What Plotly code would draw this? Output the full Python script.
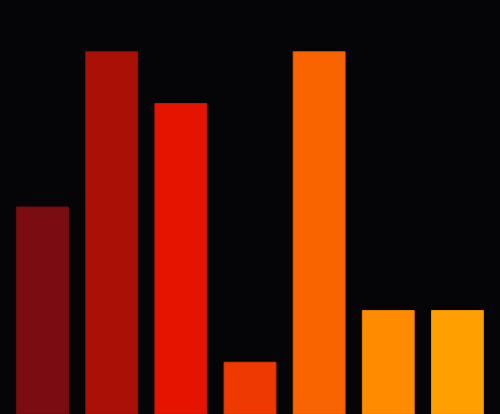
import plotly.graph_objects as go

categories = ["A", "B", "C", "D", "E", "F", "G"]
values = [4, 7, 6, 1, 7, 2, 2]
colors = ["#7b0d12", "#ab1007", "#e51400", "#ee3a00", "#fa6400", "#ff8c00", "#ffa000"]
outline = ["#6e0b10", "#9c0e06", "#d21200", "#d83400", "#e45a00", "#e87f00", "#e89200"]

fig = go.Figure(go.Bar(
    x=categories, y=values,
    marker=dict(color=colors, line=dict(color=outline, width=1)),
    hoverinfo="skip",
))
fig.update_layout(
    width=500, height=414,
    margin=dict(l=8, r=8, t=0, b=0),
    paper_bgcolor="#050507", plot_bgcolor="#050507",
    bargap=0.25, showlegend=False,
    xaxis=dict(visible=False),
    yaxis=dict(visible=False, range=[0, 8]),
)
fig.write_html(
    "out.html",
    config={"displayModeBar": False},
    post_script="document.body.style.margin='0';document.body.style.background='#050507';",
)
